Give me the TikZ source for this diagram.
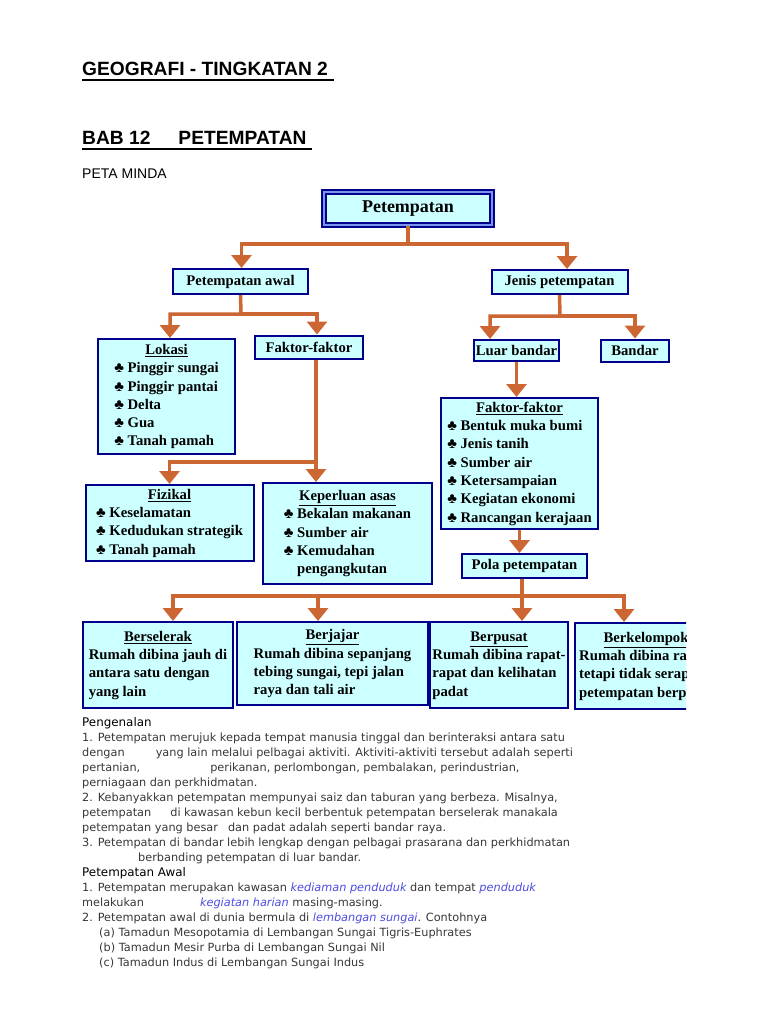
\documentclass[tikz,border=0pt]{standalone}
\usepackage{fontspec}
\setmainfont{Liberation Serif}
\newfontfamily\judulfont{Liberation Sans}
\newfontfamily\isifont{DejaVu Sans}
\usetikzlibrary{arrows.meta,positioning}
\definecolor{biru}{RGB}{0,0,140}
\definecolor{birumuda}{RGB}{120,150,235}
\definecolor{isian}{RGB}{204,255,255}
\definecolor{oren}{RGB}{204,102,51}
\definecolor{teks}{RGB}{55,55,55}
\definecolor{pautan}{RGB}{75,75,225}
\newcommand{\kelab}{\char"2663\ }
\newcommand{\miring}[1]{\textcolor{pautan}{\itshape #1}}
\newcommand{\senarai}[2]{\begin{tabular}{@{}l@{}}\multicolumn{1}{@{}c@{}}{\underline{#1}}\\#2\end{tabular}}
\tikzset{
    %Define style for boxes
    kotak/.style={
           rectangle,
           draw=biru, line width=2pt,
           fill=isian,
           inner sep=1pt,
           font=\fontsize{14.7}{18.3}\selectfont\bfseries},
    kotakutama/.style={
           kotak,
           draw=biru, line width=1.3pt,
           double=birumuda, double distance=2.5pt,
           font=\fontsize{18}{20}\selectfont\bfseries},
    % Define arrow style
    panah/.style={
           draw=oren,
           line width=3.5pt,
           -{Triangle[width=20pt,length=13pt]}},
    judul/.style={
           anchor=base west, inner sep=0pt,
           font=\judulfont\bfseries\fontsize{19.2}{22}\selectfont},
    baris/.style={
           anchor=base west, inner sep=0pt, text=teks,
           font=\isifont\fontsize{11.3}{15}\selectfont},
    subjudul/.style={
           baris, text=black,
           font=\isifont\fontsize{11.9}{15}\selectfont}
}

\begin{document}
\begin{tikzpicture}[x=1pt,y=-1pt]
\useasboundingbox (0,0) rectangle (768,1024);
 %headings
\node[judul] (tajuk) at (82,76) {GEOGRAFI - TINGKATAN 2\kern6pt};
\draw[line width=1.6pt] ([yshift=-4pt]tajuk.base west) -- ([yshift=-4pt]tajuk.base east);
\node[judul] (bab) at (82,145) {BAB 12\kern28pt PETEMPATAN\kern5pt};
\draw[line width=1.6pt] ([yshift=-4pt]bab.base west) -- ([yshift=-4pt]bab.base east);
\node[anchor=base west, inner sep=0pt, font=\judulfont\fontsize{14}{16}\selectfont] (peta) at (82,179) {PETA MINDA};

 %mind map nodes
\node[kotakutama, minimum width=168pt, minimum height=33pt] (atas) at (408,208.5) {Petempatan};
\node[kotak, minimum width=135pt, minimum height=25pt] (awal) at (240.5,281.5) {Petempatan awal};
\node[kotak, minimum width=136pt, minimum height=24pt] (jenis) at (559.5,282) {Jenis petempatan};
\node[kotak, minimum width=137pt, minimum height=115pt] (lokasi) at (166.5,396.5)
    {\senarai{Lokasi}{\kelab Pinggir sungai\\\kelab Pinggir pantai\\\kelab Delta\\\kelab Gua\\\kelab Tanah pamah}};
\node[kotak, minimum width=108pt, minimum height=23pt] (faktorA) at (309,347) {Faktor-faktor};
\node[kotak, minimum width=168pt, minimum height=76pt] (fizikal) at (169.5,523)
    {\senarai{Fizikal}{\kelab Keselamatan\\\kelab Kedudukan strategik\\\kelab Tanah pamah}};
\node[kotak, minimum width=169pt, minimum height=101pt] (keperluan) at (347.5,533.5)
    {\senarai{Keperluan asas}{\kelab Bekalan makanan\\\kelab Sumber air\\\kelab Kemudahan\\\phantom{\kelab}pengangkutan}};
\node[kotak, minimum width=85pt, minimum height=21pt] (luar) at (516.5,350.5) {Luar bandar};
\node[kotak, minimum width=68pt, minimum height=22pt, right=40pt of luar] (bandar) {Bandar};
\node[kotak, minimum width=157pt, minimum height=131pt] (faktorB) at (519.5,463.5)
    {\senarai{Faktor-faktor}{\kelab Bentuk muka bumi\\\kelab Jenis tanih\\\kelab Sumber air\\\kelab Ketersampaian\\\kelab Kegiatan ekonomi\\\kelab Rancangan kerajaan}};
\node[kotak, minimum width=125pt, minimum height=24pt] (pola) at (524.5,566) {Pola petempatan};
\node[kotak, minimum width=150pt, minimum height=86pt] (selerak) at (158,665)
    {\senarai{Berselerak}{Rumah dibina jauh di\\antara satu dengan\\yang lain}};
\node[kotak, minimum width=191pt, minimum height=83pt] (jajar) at (332.5,663.5)
    {\senarai{Berjajar}{Rumah dibina sepanjang\\tebing sungai, tepi jalan\\raya dan tali air}};
\node[kotak, minimum width=138pt, minimum height=86pt] (pusat) at (499,665)
    {\senarai{Berpusat}{Rumah dibina rapat-\\rapat dan kelihatan\\padat}};
\begin{scope}
\clip (560,600) rectangle (686,720);
\node[kotak, minimum width=142pt, minimum height=86pt, anchor=north west] (kelompok) at (574,622)
    {\senarai{Berkelompok}{Rumah dibina rapat\\tetapi tidak serapat\\petempatan berpusat}};
\end{scope}

 %connectors
\coordinate (j1) at (408,244);
\coordinate (j2) at (241,314);
\coordinate (j3) at (316,462);
\coordinate (j4) at (560,316);
\coordinate (j5) at (522,596);
\draw[panah] (atas.south) -- (j1) -| ([xshift=1pt]awal.north);
\draw[panah] (j1) -| ([xshift=7.5pt]jenis.north);
\draw[panah] (awal.south) -- (j2) -| ([xshift=3.5pt]lokasi.north);
\draw[panah] (j2) -| ([xshift=8pt]faktorA.north);
\draw[panah] (faktorA.south -| j3) -- (keperluan.north -| j3);
\draw[panah] (j3) -| (fizikal.north);
\draw[panah] (jenis.south) -- (j4) -| ([xshift=-26.5pt]luar.north);
\draw[panah] (j4) -| (bandar.north);
\draw[panah] (luar.south) -- (luar.south |- faktorB.north);
\draw[panah] (faktorB.south) -- (faktorB.south |- pola.north);
\draw[panah] (pola.south -| j5) -- (pusat.north -| j5);
\draw[panah] (j5) -| ([xshift=15pt]selerak.north);
\draw[panah] (j5) -| ([xshift=-14.5pt]jajar.north);
\draw[panah] (j5) -| (624,622);

 %text below
\node[subjudul] (t0) at (82,726) {Pengenalan};
\node[baris] (t1) at (82,741) {1. Petempatan merujuk kepada tempat manusia tinggal dan berinteraksi antara satu};
\node[baris] (t2) at (82,756) {dengan\kern31pt yang lain melalui pelbagai aktiviti. Aktiviti-aktiviti tersebut adalah seperti};
\node[baris] (t3) at (82,771) {pertanian,\kern70pt perikanan, perlombongan, pembalakan, perindustrian,};
\node[baris] (t4) at (82,786) {perniagaan dan perkhidmatan.};
\node[baris] (t5) at (82,801) {2. Kebanyakkan petempatan mempunyai saiz dan taburan yang berbeza. Misalnya,};
\node[baris] (t6) at (82,816) {petempatan\kern19pt di kawasan kebun kecil berbentuk petempatan berselerak manakala};
\node[baris] (t7) at (82,831) {petempatan yang besar\kern10pt dan padat adalah seperti bandar raya.};
\node[baris] (t8) at (82,846) {3. Petempatan di bandar lebih lengkap dengan pelbagai prasarana dan perkhidmatan};
\node[baris] (t9) at (82,861) {\kern56pt berbanding petempatan di luar bandar.};
\node[subjudul] (t10) at (82,876) {Petempatan Awal};
\node[baris] (t11) at (82,891) {1. Petempatan merupakan kawasan \miring{kediaman penduduk} dan tempat \miring{penduduk}};
\node[baris] (t12) at (82,906) {melakukan\kern56pt \miring{kegiatan harian} masing-masing.};
\node[baris] (t13) at (82,921) {2. Petempatan awal di dunia bermula di \miring{lembangan sungai}. Contohnya};
\node[baris] (t14) at (82,936) {\kern17pt(a) Tamadun Mesopotamia di Lembangan Sungai Tigris-Euphrates};
\node[baris] (t15) at (82,951) {\kern17pt(b) Tamadun Mesir Purba di Lembangan Sungai Nil};
\node[baris] (t16) at (82,966) {\kern17pt(c) Tamadun Indus di Lembangan Sungai Indus};
\end{tikzpicture}
\end{document}
